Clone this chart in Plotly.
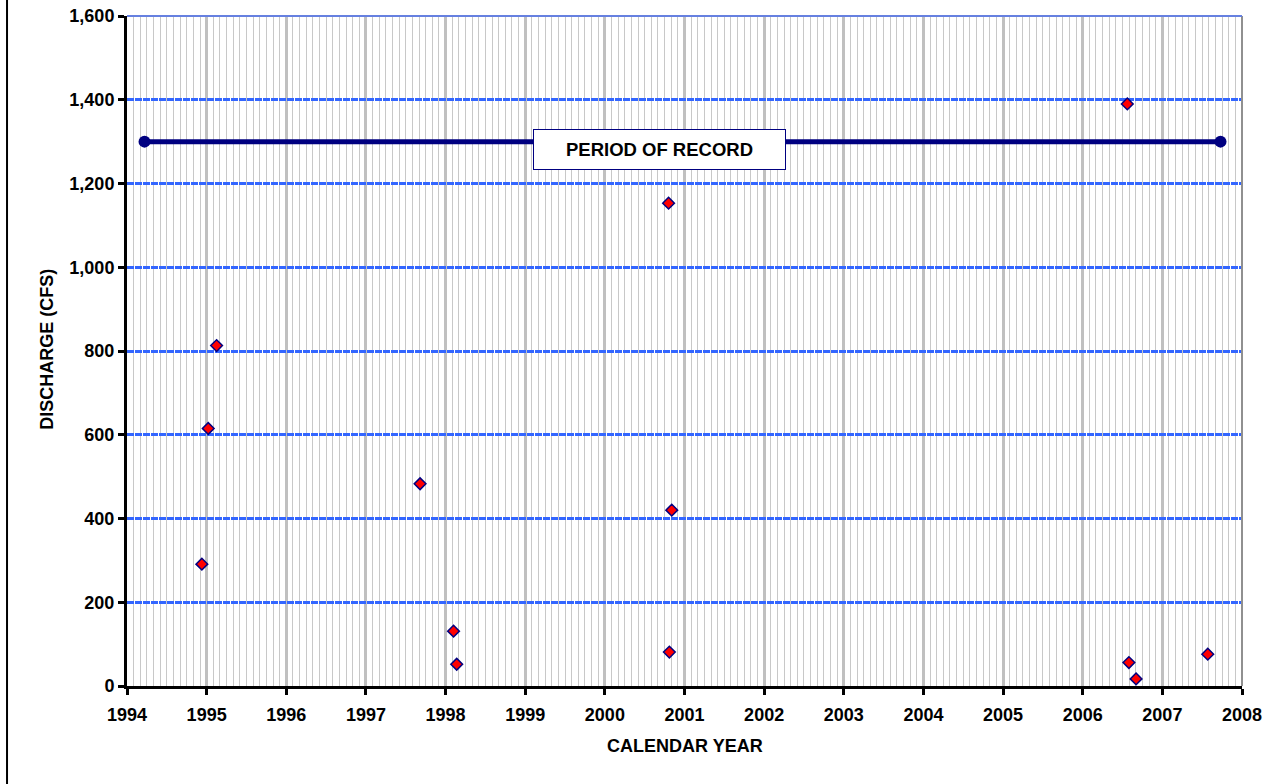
import plotly.graph_objects as go

# ---- data ----
sample_year = [1994.94, 1995.02, 1995.125, 1997.68, 1998.10, 1998.14,
               2000.80, 2000.84, 2000.81, 2006.56, 2006.58, 2006.67, 2007.57]
discharge_cfs = [291, 615, 813, 483, 131, 52,
                 1153, 420, 81, 1390, 56, 17, 76]

period_years = [1994.22, 2007.73]
period_level = [1300, 1300]
period_label = "PERIOD OF RECORD"
period_label_x = 2000.68
period_label_y = 1281

x_title = "CALENDAR YEAR"
y_title = "DISCHARGE (CFS)"

FONT = "Arial, 'Liberation Sans', sans-serif"

fig = go.Figure()

fig.add_trace(go.Scatter(
    x=period_years, y=period_level, mode="lines+markers",
    line=dict(color="#000080", width=5),
    marker=dict(symbol="circle", size=12, color="#000080"),
    showlegend=False, hoverinfo="skip"))

fig.add_trace(go.Scatter(
    x=sample_year, y=discharge_cfs, mode="markers",
    marker=dict(symbol="diamond", size=9, color="#FF0000",
                line=dict(color="#000080", width=1.5)),
    showlegend=False))

fig.update_layout(
    width=1277, height=784,
    margin=dict(l=127, r=35, t=16, b=98, autoexpand=False),
    paper_bgcolor="white", plot_bgcolor="white",
    font=dict(family=FONT, color="black"),
    xaxis=dict(
        range=[1994, 2008], dtick=1, tick0=1994, automargin=False,
        showgrid=True, gridcolor="#C0C0C0", gridwidth=3,
        minor=dict(dtick=1/12, showgrid=True, gridcolor="#C8C8C8", gridwidth=1),
        showline=True, linecolor="black", linewidth=3,
        ticks="outside", ticklen=6, tickwidth=3, tickcolor="black",
        ticklabelstandoff=4,
        tickfont=dict(family=FONT, size=18, color="black", weight="bold"),
        zeroline=False),
    yaxis=dict(
        range=[0, 1600], dtick=200, tick0=0, tickformat=",d", automargin=False,
        showgrid=True, gridcolor="#3366FF", gridwidth=3, griddash="7px,1px",
        showline=True, linecolor="black", linewidth=3,
        ticks="outside", ticklen=6, tickwidth=3, tickcolor="black",
        tickfont=dict(family=FONT, size=18, color="black", weight="bold"),
        zeroline=False),
    shapes=[
        dict(type="line", xref="paper", yref="paper", x0=-0.1076, x1=-0.1076,
             y0=-0.2, y1=1.1, line=dict(color="black", width=2)),
        dict(type="line", xref="paper", yref="paper", x0=1, x1=1,
             y0=0, y1=1, line=dict(color="#909090", width=2)),
        dict(type="line", xref="paper", yref="paper", x0=0, x1=1,
             y0=1, y1=1, line=dict(color="#6680E0", width=2)),
    ],
    annotations=[
        dict(x=period_label_x, y=period_label_y, xref="x", yref="y",
             text=period_label, showarrow=False,
             font=dict(family=FONT, size=18.5, color="black", weight="bold"),
             bgcolor="white", bordercolor="#000080", borderwidth=1,
             borderpad=0, width=251, height=39, align="center", valign="middle"),
        dict(x=0.5002, y=-0.0896, xref="paper", yref="paper",
             text=x_title, showarrow=False, xanchor="center", yanchor="middle",
             font=dict(family=FONT, size=18, color="black", weight="bold")),
        dict(x=-0.072, y=0.503, xref="paper", yref="paper",
             text=y_title, showarrow=False, xanchor="center", yanchor="middle",
             textangle=-90,
             font=dict(family=FONT, size=18, color="black", weight="bold")),
    ],
)

fig.write_html(
    "out.html",
    config={"displayModeBar": False},
    post_script="document.body.style.margin='0';document.body.style.padding='0';"
                "document.documentElement.style.overflow='hidden';")
